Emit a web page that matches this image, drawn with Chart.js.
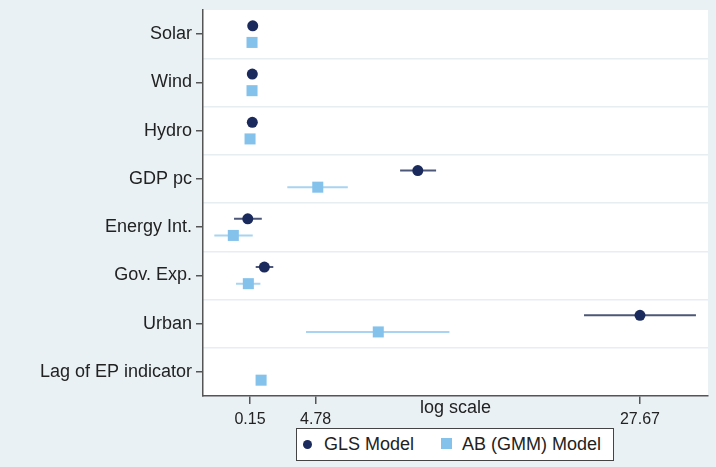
<!DOCTYPE html>
<html>
<head>
<meta charset="utf-8">
<script src="https://cdn.jsdelivr.net/npm/chart.js@4.4.1/dist/chart.umd.min.js"></script>
<style>
  body { margin: 0; background: #eaf1f4; }
  #wrap { position: relative; width: 716px; height: 467px; }
  #legend {
    position: absolute; left: 296px; top: 428px; width: 316px; height: 31px;
    border: 1px solid #444; background: #fff;
    font: 18px "Liberation Sans", Arial, sans-serif; color: #222;
  }
  #legend span { position: absolute; }
  .lbl { top: 0; line-height: 31px; white-space: nowrap; }
</style>
</head>
<body>
<div id="wrap">
  <canvas id="coefChart" width="716" height="467"></canvas>
  <div id="legend">
    <span style="left:6px; top:11px; width:9px; height:9px; border-radius:50%; background:#1b2a5c"></span>
    <span class="lbl" style="left:27px">GLS Model</span>
    <span style="left:144px; top:9px; width:11px; height:11px; background:#84c2ec"></span>
    <span class="lbl" style="left:165px">AB (GMM) Model</span>
  </div>
</div>
<script>
// coefficients (linear positions, "log scale" is just the axis note)
const categories = ["Solar", "Wind", "Hydro", "GDP pc", "Energy Int.", "Gov. Exp.", "Urban", "Lag of EP indicator"];
const glsEst = [0.34, 0.31, 0.31, 11.99, -0.01, 1.16, 27.67, null];
const glsLo  = [0.22, 0.2, 0.2, 10.74, -0.98, 0.55, 23.72, null];
const glsHi  = [0.46, 0.42, 0.42, 13.28, 0.98, 1.79, 31.62, null];
const abEst  = [0.29, 0.29, 0.15, 4.93, -1.03, 0.03, 9.2, 0.93];
const abLo   = [0.17, 0.17, 0.03, 2.78, -2.37, -0.84, 4.1, 0.81];
const abHi   = [0.41, 0.41, 0.27, 7.05, 0.34, 0.88, 14.22, 1.05];
const xTicks = [0.15, 4.78, 27.67];

const OFF = 0.172; // vertical shift of each model inside its row
const navy = "#1b2a5c";
const lightBlue = "#84c2ec";
const font = "'Liberation Sans', Arial, sans-serif";

function points(est, shift) {
    return categories.map((c, i) => est[i] == null ? null : { x: est[i], y: i + shift }).filter(p => p);
}

// one line per interval, broken by a null point
function intervals(lo, hi, shift) {
    const out = [];
    categories.forEach((c, i) => {
        if (lo[i] == null) return;
        out.push({ x: lo[i], y: i + shift }, { x: hi[i], y: i + shift }, { x: hi[i], y: null });
    });
    return out;
}

const plotBg = {
    id: "plotBg",
    beforeDraw(chart) {
        const { ctx, chartArea: a } = chart;
        ctx.save();
        ctx.fillStyle = "#ffffff";
        ctx.fillRect(a.left, a.top, a.right - a.left, a.bottom - a.top);
        ctx.restore();
    }
};

new Chart(document.getElementById("coefChart"), {
    type: "scatter",
    data: {
        datasets: [
            { label: "GLS Model", data: points(glsEst, -OFF), pointStyle: "circle", pointRadius: 5.5,
              backgroundColor: navy, borderWidth: 0 },
            { label: "AB (GMM) Model", data: points(abEst, OFF), pointStyle: "rect", pointRadius: 7.8,
              backgroundColor: lightBlue, borderWidth: 0 },
            { type: "line", data: intervals(glsLo, glsHi, -OFF), borderColor: "#4d5878", borderWidth: 2,
              pointRadius: 0, spanGaps: false },
            { type: "line", data: intervals(abLo, abHi, OFF), borderColor: "#a9d4f1", borderWidth: 2,
              pointRadius: 0, spanGaps: false }
        ]
    },
    options: {
        responsive: false,
        animation: false,
        layout: { padding: { top: 10, right: 8, bottom: 0, left: 0 } },
        plugins: { legend: { display: false }, tooltip: { enabled: false } },
        scales: {
            x: {
                type: "linear", min: -3.17, max: 32.47,
                afterBuildTicks: s => { s.ticks = xTicks.map(v => ({ value: v })); },
                afterFit: s => { s.height = 71; s.paddingLeft = 0; s.paddingRight = 0; },
                ticks: { autoSkip: false, maxRotation: 0, padding: 6, color: "#222",
                         font: { family: font, size: 16 }, callback: v => String(v) },
                grid: { drawOnChartArea: false, tickLength: 8, color: "#555", lineWidth: 1.5 },
                border: { color: "#555", width: 1.5 },
                title: { display: true, text: "log scale", color: "#222",
                         font: { family: font, size: 18 }, padding: { top: 0, bottom: 48 } }
            },
            y: {
                type: "linear", min: -0.5, max: 7.5, reverse: true,
                afterBuildTicks: s => { s.ticks = categories.map((c, i) => ({ value: i })); },
                afterFit: s => { s.width = 203; s.paddingTop = 0; s.paddingBottom = 0; },
                ticks: { autoSkip: false, padding: 4, color: "#222",
                         font: { family: font, size: 18 }, callback: v => categories[v] },
                grid: { drawOnChartArea: false, tickLength: 7, color: "#555", lineWidth: 1.5 },
                border: { color: "#555", width: 1.5 }
            },
            yg: {
                type: "linear", position: "right", min: -0.5, max: 7.5, reverse: true,
                afterBuildTicks: s => { s.ticks = categories.slice(1).map((c, i) => ({ value: i + 0.5 })); },
                afterFit: s => { s.width = 0; s.paddingTop = 0; s.paddingBottom = 0; },
                ticks: { display: false },
                grid: { drawTicks: false, color: "#e6eef1", lineWidth: 1.5 },
                border: { display: false }
            }
        }
    },
    plugins: [plotBg]
});
</script>
</body>
</html>
